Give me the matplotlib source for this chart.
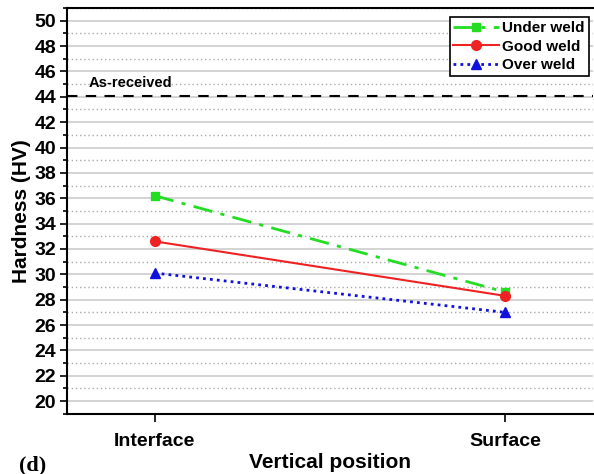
import numpy as np
import matplotlib.pyplot as plt
from matplotlib.ticker import MultipleLocator

positions = ["Interface", "Surface"]
under_weld = [36.2, 28.6]
good_weld = [32.6, 28.3]
over_weld = [30.1, 27.0]
as_received = 44.1

plt.rcParams['font.family'] = ['Liberation Sans', 'DejaVu Sans']
plt.rcParams['font.weight'] = 'bold'

fig = plt.figure(figsize=(5.94, 4.74), dpi=100)
ax = fig.add_axes([0.113, 0.127, 0.885, 0.856])

x = np.arange(len(positions))
ax.plot(x, under_weld, color='#22dd22', linestyle=(0, (7, 3, 1.5, 3)), lw=2,
        marker='s', markersize=6, label='Under weld')
ax.plot(x, good_weld, color='#ee2222', linestyle='-', lw=1.5,
        marker='o', markersize=7, label='Good weld')
ax.plot(x, over_weld, color='#1111dd', linestyle=(0, (1, 1.5)), lw=2,
        marker='^', markersize=7, label='Over weld')

ax.axhline(as_received, color='black', linestyle=(0, (5, 4)), lw=1.5)
ax.text(-0.19, as_received + 0.7, 'As-received', fontsize=10.5, fontweight='bold')

ax.set_xlim(-0.25, 1.25)
ax.set_ylim(19, 51)
ax.set_xticks(x)
ax.set_xticklabels(positions, fontsize=14)
ax.yaxis.set_major_locator(MultipleLocator(2))
ax.yaxis.set_minor_locator(MultipleLocator(1))
ax.tick_params(axis='y', labelsize=14, width=1.2, length=5, pad=3)
ax.tick_params(axis='y', which='minor', width=1.2, length=3)
ax.tick_params(axis='x', width=1.2, length=6, pad=8)

ax.grid(True, axis='y', which='major', color='#cccccc', lw=1.2)
ax.grid(True, axis='y', which='minor', color='#aaaaaa', lw=1, linestyle=(0, (1, 2)))
ax.set_axisbelow(True)

for s in ['left', 'bottom', 'top']:
    ax.spines[s].set_linewidth(1.5)
ax.spines['right'].set_visible(False)

ax.set_xlabel('Vertical position', fontsize=15, fontweight='bold', labelpad=2)
ax.set_ylabel('Hardness (HV)', fontsize=15, fontweight='bold', labelpad=2)

leg = ax.legend(loc='upper right', fontsize=11, frameon=True, fancybox=False,
                handlelength=3.0, handletextpad=0.2, borderpad=0.25,
                labelspacing=0.3, borderaxespad=0.2,
                bbox_to_anchor=(0.998, 0.985))
leg.get_frame().set_edgecolor('black')
leg.get_frame().set_linewidth(1.2)
leg.get_frame().set_alpha(1)

fig.text(0.032, 0.008, '(d)', fontsize=16, fontweight='bold',
         family=['Liberation Serif', 'DejaVu Serif'])

fig.savefig('out.png', dpi=100)
